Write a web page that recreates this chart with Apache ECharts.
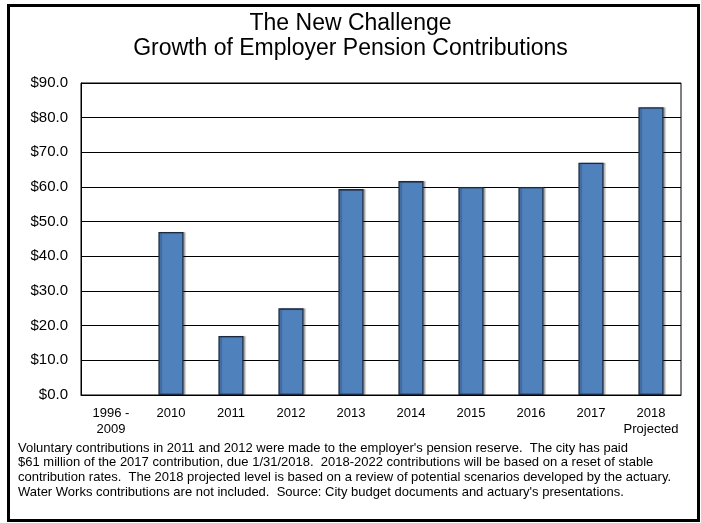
<!DOCTYPE html>
<html>
<head>
<meta charset="utf-8">
<script src="https://cdn.jsdelivr.net/npm/echarts@6/dist/echarts.min.js"></script>
<style>
  html, body { margin: 0; padding: 0; background: #fff; }
  #chart { width: 701px; height: 523px; }
</style>
</head>
<body>
<div id="chart"></div>
<script>
// Employer pension contributions by year ($ millions)
const categories = ['1996 -\n2009', '2010', '2011', '2012', '2013', '2014', '2015', '2016', '2017', '2018\nProjected'];
const contributions = [null, 47, 17, 25, 59.4, 61.7, 60, 60, 67, 83];
const yTicks = { min: 0, max: 90, step: 10 };

const titleLines = ['The New Challenge', 'Growth of Employer Pension Contributions'];
const noteLines = [
  "Voluntary contributions in 2011 and 2012 were made to the employer's pension reserve.  The city has paid",
  "$61 million of the 2017 contribution, due 1/31/2018.  2018-2022 contributions will be based on a reset of stable",
  "contribution rates.  The 2018 projected level is based on a review of potential scenarios developed by the actuary.",
  "Water Works contributions are not included.  Source: City budget documents and actuary's presentations."
];

const FONT = '"Liberation Sans", Arial, sans-serif';
const chart = echarts.init(document.getElementById('chart'), null, { renderer: 'canvas' });

chart.setOption({
  backgroundColor: '#ffffff',
  animation: false,
  textStyle: { fontFamily: FONT, color: '#000' },
  title: {
    text: titleLines.join('\n'),
    left: 'center',
    top: 6,
    textStyle: { fontFamily: FONT, fontSize: 23, fontWeight: 'normal', color: '#000', lineHeight: 25 }
  },
  grid: {
    left: 81, top: 83, width: 600, height: 312,
    show: true, borderColor: '#000', borderWidth: 1, backgroundColor: '#fff'
  },
  xAxis: {
    type: 'category',
    data: categories,
    axisLine: { lineStyle: { color: '#000', width: 1 } },
    axisTick: { show: false },
    axisLabel: { color: '#000', fontFamily: FONT, fontSize: 13, lineHeight: 16, margin: 10, interval: 0 }
  },
  yAxis: {
    type: 'value',
    min: yTicks.min, max: yTicks.max, interval: yTicks.step,
    axisLine: { show: true, lineStyle: { color: '#000', width: 1 } },
    axisTick: { show: false },
    splitLine: { lineStyle: { color: '#000', width: 1 } },
    axisLabel: {
      color: '#000', fontFamily: FONT, fontSize: 15, margin: 13,
      formatter: v => '$' + v.toFixed(1)
    }
  },
  series: [{
    type: 'bar',
    data: contributions,
    barWidth: '42%',
    itemStyle: {
      color: '#4F81BD',
      borderColor: '#1c2a3f',
      borderWidth: 1.3,
      shadowColor: 'rgba(0,0,0,0.25)',
      shadowOffsetX: 2,
      shadowOffsetY: 0,
      shadowBlur: 1
    }
  }],
  graphic: [
    {
      type: 'rect',
      shape: { x: 8.5, y: 5.5, width: 690, height: 515 },
      style: { fill: 'none', stroke: '#000', lineWidth: 3 },
      silent: true
    },
    {
      type: 'text',
      left: 18,
      top: 441,
      style: {
        text: noteLines.join('\n'),
        font: '13px ' + FONT,
        fill: '#000',
        lineHeight: 14.6
      }
    }
  ]
});
</script>
</body>
</html>
